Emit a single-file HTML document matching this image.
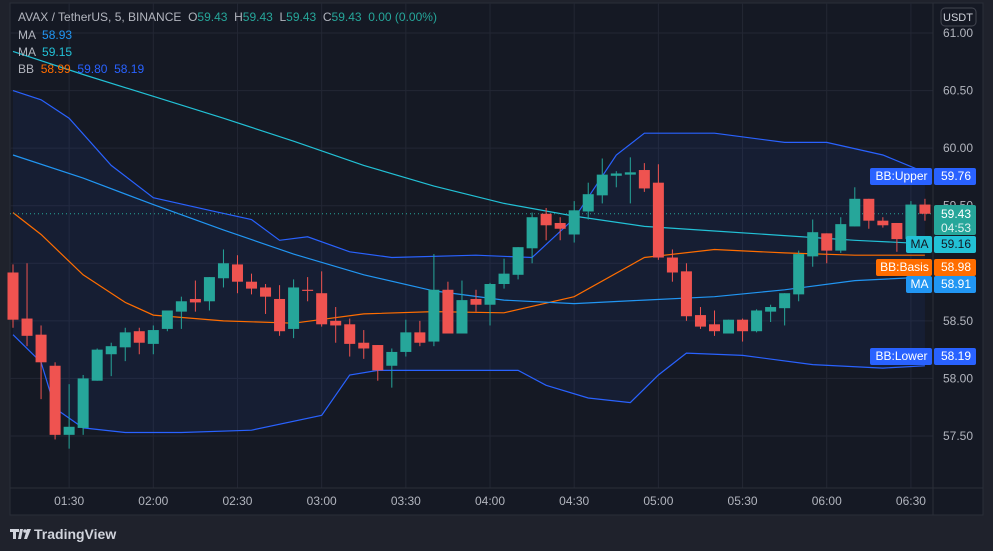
<!DOCTYPE html>
<html><head><meta charset="utf-8">
<style>
html,body{margin:0;padding:0;background:#1f222c;width:993px;height:551px;overflow:hidden;font-family:"Liberation Sans",sans-serif}
svg{position:absolute;left:0;top:0}
svg text{white-space:pre}
</style></head>
<body>
<svg id="chart" width="993" height="551">
<rect x="10" y="3" width="973" height="512" fill="#151924" stroke="#2a2e39"/>
<g id="grid"></g>
<g id="band"></g>
<g id="lines"></g>
<g id="candles"></g>
<g id="axes"></g>
<g id="labels"></g>
<g font-size="12" fill="#b2b5be">
<text x="18" y="21">AVAX / TetherUS, 5, BINANCE  O<tspan fill="#26a69a">59.43</tspan>  H<tspan fill="#26a69a">59.43</tspan>  L<tspan fill="#26a69a">59.43</tspan>  C<tspan fill="#26a69a">59.43</tspan>  <tspan fill="#26a69a">0.00 (0.00%)</tspan></text>
<text x="18" y="39">MA  <tspan fill="#2196f3">58.93</tspan></text>
<text x="18" y="56">MA  <tspan fill="#22c1d6">59.15</tspan></text>
<text x="18" y="73">BB  <tspan fill="#ff6d00">58.99</tspan>  <tspan fill="#2962ff">59.80</tspan>  <tspan fill="#2962ff">58.19</tspan></text>
</g>
<g>
<path d="M10 529h9v3h-3v7h-3v-7h-3z M20 529h3l-2 10h-3z" fill="#d1d4dc"/>
<circle cx="25" cy="531" r="1.8" fill="#d1d4dc"/>
<path d="M27 529h4l-4 10h-3z" fill="#d1d4dc"/>
<text x="34" y="539" font-size="14" font-weight="bold" fill="#d1d4dc">TradingView</text>
</g>
</svg>
<script>
const opens=[58.92,58.52,58.38,58.11,57.51,57.57,57.98,58.21,58.27,58.41,58.30,58.43,58.58,58.69,58.67,58.87,58.99,58.84,58.79,58.69,58.43,58.77,58.74,58.50,58.47,58.31,58.29,58.11,58.23,58.40,58.32,58.77,58.39,58.69,58.64,58.82,58.90,59.13,59.43,59.35,59.25,59.45,59.59,59.76,59.77,59.81,59.70,59.05,58.93,58.55,58.47,58.39,58.51,58.41,58.58,58.61,58.73,59.06,59.26,59.11,59.32,59.56,59.37,59.35,59.21,59.51];
const highs=[58.99,59.00,58.46,58.14,57.95,58.03,58.26,58.31,58.44,58.44,58.46,58.59,58.71,58.85,58.88,59.12,59.07,58.91,58.82,58.81,58.86,58.88,58.93,58.62,58.52,58.42,58.29,58.26,58.51,58.50,59.08,58.84,58.85,58.77,58.83,59.04,59.14,59.44,59.48,59.40,59.54,59.70,59.91,59.80,59.92,59.87,59.86,59.12,59.00,58.62,58.59,58.51,58.52,58.60,58.64,58.74,59.11,59.38,59.26,59.40,59.66,59.56,59.40,59.35,59.54,59.56];
const lows=[58.44,58.28,57.82,57.47,57.39,57.51,57.98,58.02,58.15,58.21,58.21,58.41,58.43,58.58,58.59,58.79,58.74,58.73,58.56,58.37,58.35,58.67,58.45,58.31,58.19,58.17,57.98,57.92,58.19,58.28,58.28,58.39,58.39,58.58,58.46,58.78,58.86,59.00,59.20,59.20,59.18,59.38,59.52,59.66,59.52,59.62,59.03,58.84,58.50,58.43,58.37,58.39,58.32,58.40,58.49,58.46,58.67,58.97,59.00,59.09,59.32,59.30,59.31,59.10,59.18,59.37];
const closes=[58.51,58.37,58.14,57.51,57.58,58.00,58.25,58.28,58.40,58.31,58.42,58.59,58.67,58.66,58.88,59.00,58.84,58.78,58.71,58.41,58.79,58.76,58.47,58.46,58.30,58.26,58.07,58.23,58.40,58.31,58.77,58.39,58.68,58.64,58.82,58.91,59.14,59.40,59.33,59.30,59.46,59.60,59.77,59.78,59.79,59.65,59.05,58.92,58.54,58.45,58.41,58.51,58.41,58.59,58.62,58.74,59.08,59.27,59.11,59.34,59.56,59.37,59.33,59.21,59.51,59.43];
const maIdx=[0,5,10,15,20,25,30,35,40,45,50,55,60,65];
const maFast=[60.84,60.64,60.45,60.26,60.06,59.85,59.67,59.52,59.41,59.32,59.28,59.24,59.20,59.17];
const maSlow=[59.94,59.74,59.51,59.29,59.08,58.90,58.76,58.68,58.65,58.68,58.71,58.77,58.85,58.88];
const basisIdx=[0,2,5,8,10,15,20,25,30,35,40,45,50,55,60,65];
const basis=[59.44,59.25,58.90,58.66,58.55,58.50,58.48,58.56,58.58,58.57,58.71,59.05,59.12,59.09,59.07,59.07];
const upperIdx=[0,2,4,7,10,14,17,19,21,24,27,33,37,40,43,45,50,55,58,62,65];
const upper=[60.50,60.42,60.26,59.85,59.57,59.46,59.38,59.20,59.23,59.10,59.05,59.07,59.05,59.39,59.94,60.13,60.13,60.05,60.05,59.94,59.79];
const lowerIdx=[0,2,3,5,8,12,17,22,24,26,33,36,38,41,44,46,48,52,57,62,65];
const lower=[58.38,58.14,57.74,57.57,57.53,57.53,57.55,57.68,58.03,58.07,58.07,58.07,57.94,57.83,57.79,58.03,58.22,58.20,58.12,58.09,58.11];
const priceTicks=[61.00,60.50,60.00,59.50,59.00,58.50,58.00,57.50];
const timeTickIdx=[4,10,16,22,28,34,40,46,52,58,64];
const timeLabels=["01:30","02:00","02:30","03:00","03:30","04:00","04:30","05:00","05:30","06:00","06:30"];

const NS="http://www.w3.org/2000/svg";
const PL=10,PR=933,PT=3,PB=488;
function y(p){return 33+(61-p)*115.14;}
function x(i){return 13+14.03*i;}
function mk(tag,attrs,parent){const e=document.createElementNS(NS,tag);for(const k in attrs)e.setAttribute(k,attrs[k]);parent.appendChild(e);return e;}
const grid=document.getElementById('grid'),axes=document.getElementById('axes');
priceTicks.forEach(p=>{
  const l=mk('line',{x1:PL,x2:PR,y1:y(p),y2:y(p),stroke:'#232734'},grid);
  
  
  const t=mk('text',{x:958,y:y(p)+4,'font-size':12,fill:'#b2b5be','text-anchor':'middle'},axes);
  t.textContent=p.toFixed(2);
  
  
});
timeTickIdx.forEach((ti,k)=>{
  const l=mk('line',{x1:x(ti),x2:x(ti),y1:PT,y2:PB,stroke:'#232734'},grid);
  
  
  const t=mk('text',{x:x(ti),y:505,'font-size':12,fill:'#b2b5be','text-anchor':'middle'},axes);
  t.textContent=timeLabels[k];
  
  
});
mk('line',{x1:PR,x2:PR,y1:PT,y2:515,stroke:'#2a2e39'},axes);
mk('line',{x1:PL,x2:983,y1:PB,y2:PB,stroke:'#2a2e39'},axes);
const ub=mk('rect',{x:941,y:8,width:35,height:18,rx:4,fill:'none',stroke:'#434651'},axes);


const ut=mk('text',{x:958,y:21,'font-size':11,fill:'#d1d4dc','text-anchor':'middle'},axes);ut.textContent='USDT';

function pts(idx,vals){return idx.map((i,k)=>x(i).toFixed(1)+','+y(vals[k]).toFixed(1));}
const band=document.getElementById('band');
const bp=mk('polygon',{points:pts(upperIdx,upper).concat(pts(lowerIdx,lower).reverse()).join(' '),fill:'#2962ff',opacity:0.07},band);


const lines=document.getElementById('lines');
function line(idx,vals,col,name){const p=mk('polyline',{points:pts(idx,vals).join(' '),fill:'none',stroke:col,'stroke-width':1.2},lines);
  
  }
line(upperIdx,upper,'#2962ff','bb-upper-line');
line(lowerIdx,lower,'#2962ff','bb-lower-line');
line(basisIdx,basis,'#ff6d00','bb-basis-line');
line(maIdx,maSlow,'#2196f3','ma-slow-line');
line(maIdx,maFast,'#22c1d6','ma-fast-line');
const cl=mk('line',{x1:PL,x2:PR,y1:y(closes[closes.length-1]),y2:y(closes[closes.length-1]),stroke:'#26a69a','stroke-dasharray':'1 3'},lines);



const cg=document.getElementById('candles');
opens.forEach((o,i)=>{
  const c=closes[i],up=c>=o,col=up?'#26a69a':'#ef5350',cx=x(i);
  const g=mk('g',{},cg);
  
  
  mk('line',{x1:cx,x2:cx,y1:y(highs[i]),y2:y(lows[i]),stroke:col,'stroke-width':1},g);
  const top=y(Math.max(o,c)),bot=y(Math.min(o,c));
  mk('rect',{x:cx-5.5,y:top,width:11,height:Math.max(1,bot-top),fill:col},g);
});

const lab=document.getElementById('labels');
function tag(lbl,val,yy,col,tc,name,lx){
  const g=mk('g',{},lab);
  
  
  mk('rect',{x:lx,y:yy-8,width:PR-lx-1,height:17,fill:col,rx:2},g);
  mk('rect',{x:PR+1,y:yy-8,width:42,height:17,fill:col,rx:2},g);
  const a=mk('text',{x:(lx+PR)/2,y:yy+4,'font-size':12,fill:tc,'text-anchor':'middle'},g);a.textContent=lbl;
  const b=mk('text',{x:956,y:yy+4,'font-size':12,fill:tc,'text-anchor':'middle'},g);b.textContent=val;
}
tag('BB:Upper','59.76',176,'#2962ff','#fff','bb-upper-tag',870);
tag('MA','59.16',244,'#22c1d6','#131722','ma-fast-tag',906);
tag('BB:Basis','58.98',267,'#ff6d00','#fff','bb-basis-tag',876);
tag('MA','58.91',284,'#2196f3','#fff','ma-slow-tag',906);
tag('BB:Lower','58.19',356,'#2962ff','#fff','bb-lower-tag',870);
const pg=mk('g',{},lab);


mk('rect',{x:PR+1,y:205,width:42,height:30,fill:'#26a69a',rx:2},pg);
const p1=mk('text',{x:956,y:218,'font-size':12,fill:'#fff','text-anchor':'middle'},pg);p1.textContent='59.43';
const p2=mk('text',{x:956,y:232,'font-size':12,fill:'#e0f2f1','text-anchor':'middle'},pg);p2.textContent='04:53';
</script>
</body></html>
